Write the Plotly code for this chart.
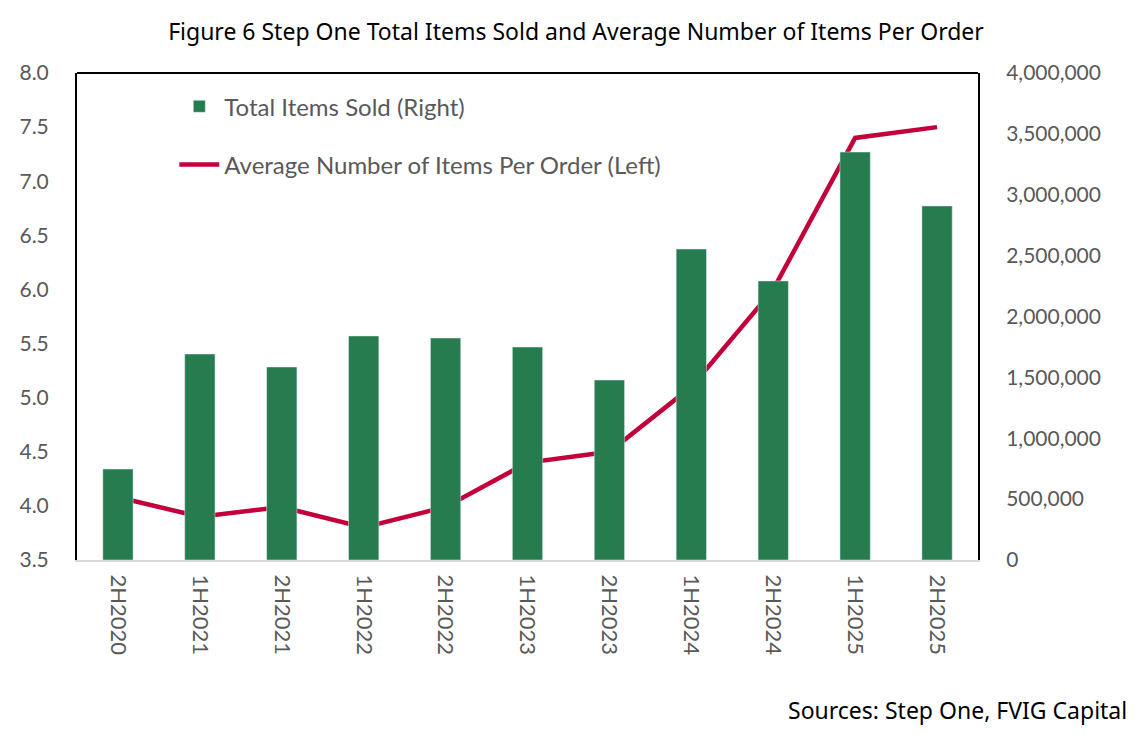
import plotly.graph_objects as go

periods = ["2H2020", "1H2021", "2H2021", "1H2022", "2H2022", "1H2023",
           "2H2023", "1H2024", "2H2024", "1H2025", "2H2025"]
items_sold = [747000, 1692000, 1585000, 1840000, 1823000, 1749000,
              1478000, 2554000, 2292000, 3351000, 2908000]
avg_items = [4.08, 3.90, 3.99, 3.80, 3.99, 4.40, 4.50, 5.10, 6.00, 7.40, 7.50]

green = "#267B4F"
red = "#C3003A"
grey = "#595959"
font = "Lato"
title_font = "Noto Sans"

fig = go.Figure()
fig.add_trace(go.Bar(
    x=periods, y=items_sold, name="Total Items Sold (Right)",
    marker_color=green, yaxis="y2", width=0.37, legendgroup="a",
))
fig.add_trace(go.Scatter(
    x=periods, y=avg_items, name="Average Number of Items Per Order (Left)",
    mode="lines", line=dict(color=red, width=4.5), legendgroup="b",
))

# page body has an 8px margin, so the figure is drawn 8px smaller
fig.update_layout(
    width=1136, height=730,
    margin=dict(l=69, r=166, t=65, b=178),
    paper_bgcolor="white", plot_bgcolor="white",
    font=dict(family=font, color=grey, size=21),
    title=dict(text="Figure 6 Step One Total Items Sold and Average Number of Items Per Order",
               x=0.5, xanchor="center", y=0.967, yanchor="middle",
               font=dict(family=title_font, size=23, color="black")),
    showlegend=True,
    legend=dict(x=0.108, y=0.977, xanchor="left", yanchor="top",
                bgcolor="rgba(0,0,0,0)", font=dict(size=24, color=grey),
                traceorder="grouped", tracegroupgap=24, itemwidth=40),
    xaxis=dict(tickangle=90, showline=True, linecolor="#D9D9D9", linewidth=2,
               ticks="", showgrid=False, ticklabelstandoff=8,
               tickfont=dict(size=22, color=grey)),
    yaxis=dict(range=[3.5, 8.0], dtick=0.5, tickformat=".1f", showgrid=False,
               zeroline=False, showline=True, linecolor="black", linewidth=2,
               ticks="", ticklabelstandoff=22, tickfont=dict(size=21, color=grey)),
    yaxis2=dict(range=[0, 4000000], dtick=500000, tickformat=",", overlaying="y",
                side="right", showgrid=False, zeroline=False, showline=True,
                linecolor="black", linewidth=2, ticks="", ticklabelstandoff=22,
                tickfont=dict(size=21, color=grey)),
    shapes=[dict(type="line", xref="paper", yref="paper", x0=0, x1=1, y0=1, y1=1,
                 line=dict(color="black", width=2))],
    annotations=[dict(text="Sources: Step One, FVIG Capital", xref="paper", yref="paper",
                      x=1.168, y=-0.308, xanchor="right", yanchor="middle", showarrow=False,
                      font=dict(family=title_font, size=23, color="black"))],
)

fig.write_html("out.html")
